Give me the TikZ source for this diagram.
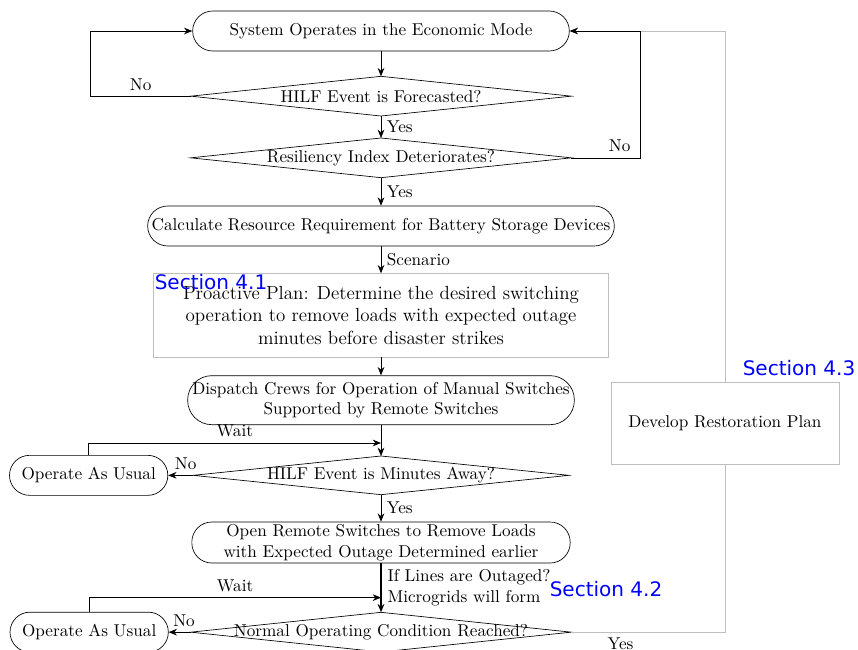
\documentclass[tikz,border=0pt]{standalone}
\usepackage{fontspec}
\newfontfamily\sectionfont{DejaVu Sans}
\usetikzlibrary{arrows.meta,calc,positioning}
\definecolor{planColor}{RGB}{190,190,190}
\definecolor{sectionColor}{RGB}{0,0,255}
\tikzset{terminal/.style={draw, align=center, rounded corners=12pt, minimum height=24pt, inner xsep=1pt}}
\tikzset{decision/.style={align=center, minimum width=228pt, minimum height=23.4pt, inner sep=0pt}}
\tikzset{plan/.style={draw=planColor, align=center, inner sep=0pt}}
\tikzset{section/.style={text=sectionColor, font=\sectionfont\fontsize{12}{14}\selectfont, inner sep=0pt}}
\tikzset{flow/.style={-{Stealth[length=5pt,width=4pt]}}}

\begin{document}
\begin{tikzpicture}[x=0.6pt, y=-0.6pt, font=\fontsize{10.3}{12.4}\selectfont]
\useasboundingbox (0,0) rectangle (858,649);
% Nodes
\node (start) [terminal, minimum width=226pt] at (381,31) {System Operates in the Economic Mode};
\node (forecast) [decision, below=15pt of start] {HILF Event is Forecasted?};
\node (resiliency) [decision, below=13.2pt of forecast] {Resiliency Index Deteriorates?};
\node (calc) [terminal, minimum width=280pt, below=16.8pt of resiliency] {Calculate Resource Requirement for Battery Storage Devices};
\node (plan) [plan, minimum width=273pt, minimum height=50pt, below=16.2pt of calc, font=\fontsize{11.4}{13.4}\selectfont] {Proactive Plan: Determine the desired switching\\ operation to remove loads with expected outage\\ minutes before disaster strikes};
\node (dispatch) [terminal, minimum width=232pt, minimum height=29.4pt, rounded corners=14.5pt, below=10.8pt of plan] {Dispatch Crews for Operation of Manual Switches\\ Supported by Remote Switches};
\node (minutes) [decision, minimum width=225pt, minimum height=22.8pt, below=18.6pt of dispatch] {HILF Event is Minutes Away?};
\node (open) [terminal, minimum width=227pt, minimum height=24.6pt, inner ysep=1pt, below=16.2pt of minutes] {Open Remote Switches to Remove Loads\\ with Expected Outage Determined earlier};
\node (normal) [decision, below=29.4pt of open] {Normal Operating Condition Reached?};
\node (usual1) [terminal, minimum width=95pt, left=15pt of minutes] {Operate As Usual};
\node (usual2) [terminal, minimum width=95pt, left=13.2pt of normal] {Operate As Usual};
\node (restore) [plan, minimum width=137pt, minimum height=49pt] at (725,423) {Develop Restoration Plan};

\node (sec41) [section] at (211,282) {Section 4.1};
\node (sec43) [section] at (799,368) {Section 4.3};
\node (sec42) [section] at (606,589) {Section 4.2};

\foreach \q in {forecast, resiliency, minutes, normal}
  \draw (\q.north) -- (\q.east) -- (\q.south) -- (\q.west) -- cycle;

\coordinate (wait1) at ($(dispatch.south)!0.58!(minutes.north)$);
\coordinate (wait2) at ($(open.south)!0.70!(normal.north)$);

% Connectors
\draw [planColor] (normal.east) -| node[pos=0.16, below, text=black] {Yes} (restore.south);
\draw [planColor, flow] (restore.north) |- (start.east);

\begin{scope}[flow]
\draw (start) -- (forecast);
\draw (forecast.west) -- node[above] {No} ++(-100,0) |- (start.west);
\draw (forecast) -- node[right] {Yes} (resiliency);
\draw (resiliency.east) -- node[above, pos=0.7] {No} ++(69,0) |- (start.east);
\draw (resiliency) -- node[right] {Yes} (calc);
\draw (calc) -- node[right] {Scenario} (plan);
\draw (plan) -- (dispatch);
\draw (dispatch) -- (minutes);
\draw (minutes.west) -- node[above, pos=0.3] {No} (usual1);
\draw (usual1.north) |- node[above, pos=0.75] {Wait} (wait1);
\draw (minutes) -- node[right] {Yes} (open);
\draw [very thick] (open) -- node[right, align=left] {If Lines are Outaged?\\ Microgrids will form} (normal);
\draw (normal.west) -- node[above, pos=0.3] {No} (usual2);
\draw (usual2.north) |- node[above, pos=0.75] {Wait} (wait2);
\end{scope}

\end{tikzpicture}
\end{document}
